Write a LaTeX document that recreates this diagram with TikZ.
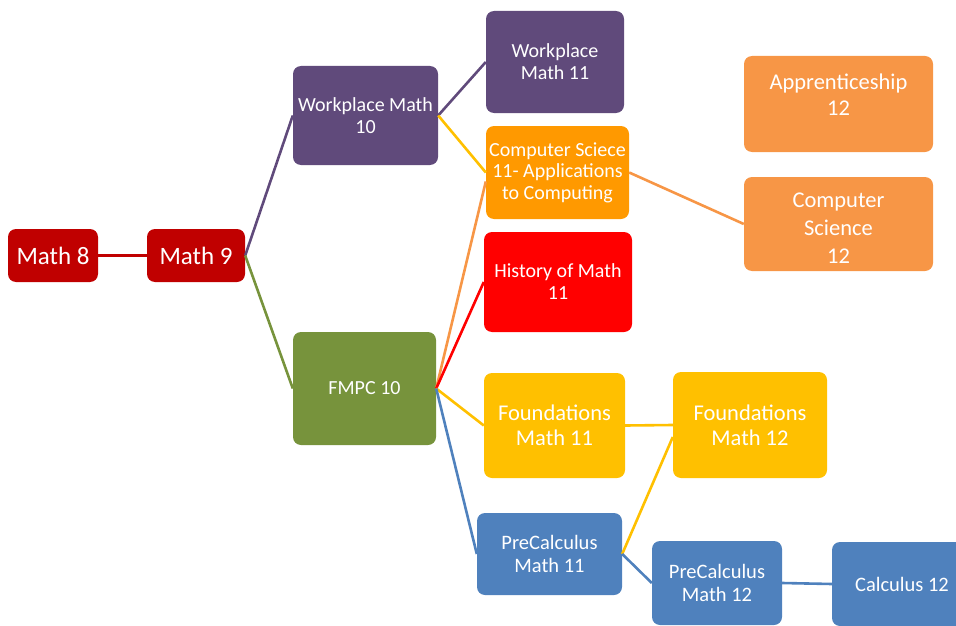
\documentclass[tikz,border=0pt]{standalone}
\usepackage{fontspec}
\setmainfont{Carlito}
\definecolor{cdred}{HTML}{C00000}
\definecolor{cpurple}{HTML}{604A7B}
\definecolor{cgreen}{HTML}{77933C}
\definecolor{corange}{HTML}{FF9900}
\definecolor{cred}{HTML}{FF0000}
\definecolor{cgold}{HTML}{FFC000}
\definecolor{cblue}{HTML}{4F81BD}
\definecolor{clorange}{HTML}{F79646}
\begin{document}
\begin{tikzpicture}[x=1pt,y=-1pt,
  box/.style={rectangle, rounded corners=8pt, inner sep=0pt, text=white, align=center},
  tA/.style={font=\fontsize{20}{22}\selectfont},
  tB/.style={font=\fontsize{22.5}{25}\selectfont},
  tC/.style={font=\fontsize{25}{28}\selectfont},
  conn/.style={line width=2.6pt}]
\useasboundingbox (0,0) rectangle (956,626);
\node[box,tC,fill=cdred,minimum width=90pt,minimum height=53pt] (m8) at (53,255.5) {Math 8};
\node[box,tC,fill=cdred,minimum width=98pt,minimum height=53pt] (m9) at (196,255.5) {Math 9};
\node[box,tA,fill=cpurple,minimum width=145pt,minimum height=99pt] (wm10) at (365.5,115.5) {Workplace Math\\10};
\node[box,tA,fill=cgreen,minimum width=143pt,minimum height=113pt] (fmpc) at (364.5,388.5) {FMPC 10};
\node[box,tA,fill=cpurple,minimum width=138pt,minimum height=102pt] (wm11) at (555,62) {Workplace\\Math 11};
\node[box,tA,font=\fontsize{20}{21.5}\selectfont,fill=corange,minimum width=143pt,minimum height=93pt] (cs11) at (557.5,172.5) {Computer Sciece\\11- Applications\\to Computing};
\node[box,tA,fill=cred,minimum width=148pt,minimum height=100pt] (hist) at (558,282) {History of Math\\11};
\node[box,tB,fill=cgold,minimum width=141pt,minimum height=105pt] (f11) at (554.5,425.5) {Foundations\\Math 11};
\node[box,font=\fontsize{20.5}{23}\selectfont,fill=cblue,minimum width=145pt,minimum height=82pt] (pc11) at (549.5,554) {PreCalculus\\Math 11};
\node[box,fill=clorange,minimum width=189pt,minimum height=96pt,
  label={[text=white,align=center,font=\fontsize{22.5}{26}\selectfont,yshift=9pt]center:Apprenticeship\\12}] (ap12) at (838.5,104) {};
\node[box,fill=clorange,minimum width=189pt,minimum height=94pt,
  label={[text=white,align=center,font=\fontsize{22.5}{28}\selectfont,yshift=-4pt]center:Computer\\Science\\12}] (cs12) at (838.5,224) {};
\node[box,tB,fill=cgold,minimum width=154pt,minimum height=106pt] (f12) at (750,425) {Foundations\\Math 12};
\node[box,font=\fontsize{20.5}{23}\selectfont,fill=cblue,minimum width=130pt,minimum height=84pt] (pc12) at (717,583) {PreCalculus\\Math 12};
\node[box,font=\fontsize{20.5}{23}\selectfont,fill=cblue,minimum width=140pt,minimum height=84pt] (calc) at (902,584) {Calculus 12};
% connectors
\draw[conn,cdred] (m8.east) -- (m9.west);
\draw[conn,cpurple] (m9.east) -- (wm10.west);
\draw[conn,cgreen] (m9.east) -- (fmpc.west);
\draw[conn,cpurple] (wm10.east) -- (wm11.west);
\draw[conn,cgold] (wm10.east) -- (cs11.west);
\draw[conn,clorange] (fmpc.east) -- ([yshift=-9pt]cs11.west);
\draw[conn,cred] (fmpc.east) -- (hist.west);
\draw[conn,cgold] (fmpc.east) -- (f11.west);
\draw[conn,cblue] (fmpc.east) -- (pc11.west);
\draw[conn,clorange] (cs11.east) -- (cs12.west);
\draw[conn,cgold] (f11.east) -- (f12.west);
\draw[conn,cgold] (pc11.east) -- ([yshift=-12pt]f12.west);
\draw[conn,cblue] (pc11.east) -- (pc12.west);
\draw[conn,cblue] (pc12.east) -- (calc.west);
\end{tikzpicture}
\end{document}
